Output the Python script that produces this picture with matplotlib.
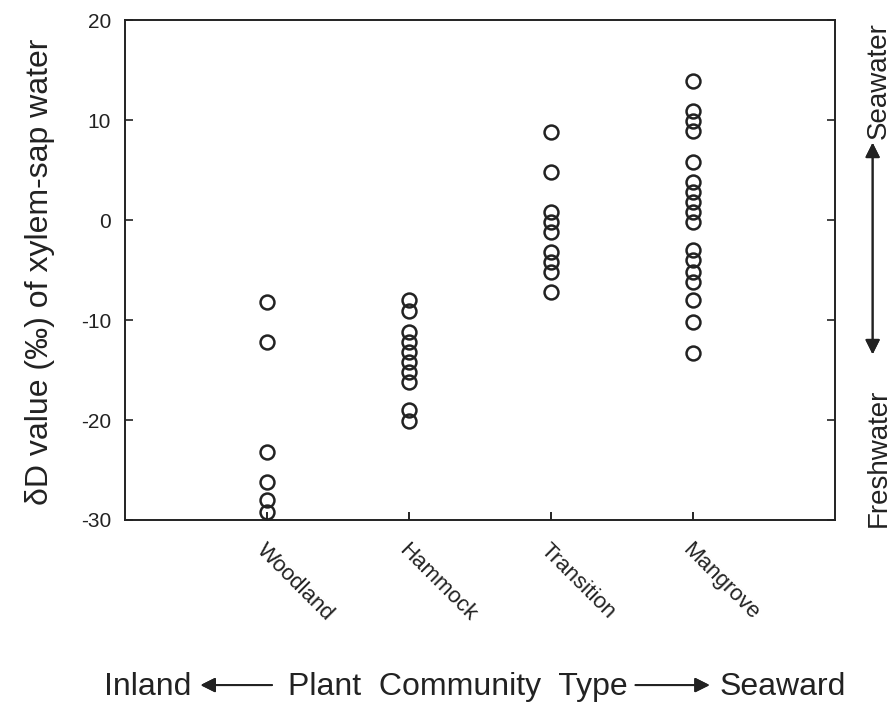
import matplotlib.pyplot as plt

plt.rcParams['font.family'] = ['Liberation Sans', 'DejaVu Sans']
plt.rcParams['axes.unicode_minus'] = False

communities = ['Woodland', 'Hammock', 'Transition', 'Mangrove']
woodland = [-8.2, -12.2, -23.2, -26.2, -28.0, -29.2]
hammock = [-8.0, -9.1, -11.2, -12.2, -13.2, -14.2, -15.2, -16.2, -19.0, -20.1]
transition = [8.8, 4.8, 0.8, -0.2, -1.2, -3.2, -4.2, -5.2, -7.2]
mangrove = [13.9, 10.9, 9.9, 8.9, 5.8, 3.8, 2.8, 1.8, 0.8, -0.2,
            -3.0, -4.0, -5.2, -6.2, -8.0, -10.2, -13.3]
groups = [woodland, hammock, transition, mangrove]

ink = '#222222'

fig = plt.figure(figsize=(8.95, 7.07), dpi=100)
ax = fig.add_axes([0.1397, 0.2645, 0.7933, 0.7072])

for i, vals in enumerate(groups, start=1):
    ax.plot([i] * len(vals), vals, 'o', ms=10, mfc='none', mec=ink,
            mew=1.8, clip_on=False, zorder=3)

ax.set_xlim(0, 5)
ax.set_ylim(-30, 20)
ax.set_yticks([-30, -20, -10, 0, 10, 20])
ax.set_xticks(range(1, 5))
ax.set_xticklabels(communities, rotation=-45, ha='left', va='top',
                   rotation_mode='anchor', fontsize=16, color=ink)
ax.tick_params(axis='y', direction='in', length=6, width=1.2, right=True,
               labelsize=15, colors=ink, pad=10)
ax.tick_params(axis='x', direction='in', length=6, width=1.2, pad=14)
for s in ax.spines.values():
    s.set_linewidth(1.4)
    s.set_color(ink)

fig.text(0.045, 0.615, 'δD value (‰) of xylem-sap water', rotation=90,
         ha='center', va='center', fontsize=23, color=ink)

# right-hand salinity scale
fig.text(0.982, 0.886, 'Seawater', rotation=90, ha='center', va='center',
         fontsize=20, color=ink)
fig.text(0.982, 0.352, 'Freshwater', rotation=90, ha='center', va='center',
         fontsize=20, color=ink)
fig.add_artist(plt.annotate('', xy=(0.975, 0.802), xytext=(0.975, 0.495),
                            xycoords='figure fraction',
                            arrowprops=dict(arrowstyle='<|-|>', color=ink,
                                            lw=1.4, mutation_scale=22)))

# bottom inland-seaward scale
fig.text(0.165, 0.028, 'Inland', ha='center', va='center', fontsize=23, color=ink)
fig.text(0.511, 0.028, 'Plant  Community  Type', ha='center', va='center',
         fontsize=23, color=ink)
fig.text(0.875, 0.028, 'Seaward', ha='center', va='center', fontsize=23, color=ink)
for x0, x1 in [(0.307, 0.221), (0.707, 0.796)]:
    fig.add_artist(plt.annotate('', xy=(x1, 0.031), xytext=(x0, 0.031),
                                xycoords='figure fraction',
                                arrowprops=dict(arrowstyle='-|>', color=ink,
                                                lw=1.4, mutation_scale=22)))

fig.savefig('out.png', dpi=100)
